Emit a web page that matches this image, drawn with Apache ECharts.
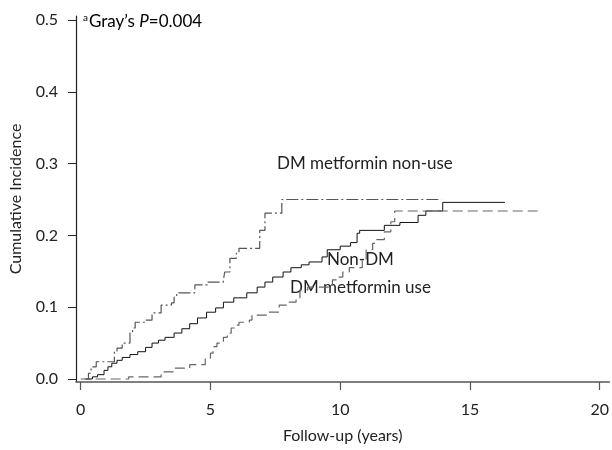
<!DOCTYPE html>
<html><head><meta charset="utf-8">
<script src="https://cdn.jsdelivr.net/npm/echarts@6/dist/echarts.min.js"></script>
<style>html,body{margin:0;padding:0;background:#fff}#c{width:612px;height:450px}</style>
</head><body><div id="c"></div>
<script>
var xTicks = [0, 5, 10, 15, 20];
var yTicks = [0, 0.1, 0.2, 0.3, 0.4, 0.5];
var seriesNames = ['Non-DM', 'DM metformin non-use', 'DM metformin use'];
var nonDM = [[0.2,0],[0.45,0.003],[0.65,0.006],[0.9,0.012],[1.05,0.017],[1.2,0.022],[1.4,0.026],[1.6,0.03],[1.9,0.034],[2.2,0.038],[2.5,0.044],[2.75,0.05],[3.0,0.054],[3.25,0.058],[3.6,0.064],[3.9,0.07],[4.2,0.077],[4.5,0.085],[4.85,0.093],[5.2,0.099],[5.5,0.107],[5.9,0.113],[6.4,0.12],[6.8,0.128],[7.1,0.135],[7.4,0.142],[7.8,0.149],[8.1,0.155],[8.5,0.159],[8.8,0.163],[9.3,0.17],[9.5,0.18],[10.0,0.185],[10.4,0.19],[10.65,0.203],[10.75,0.207],[11.7,0.214],[12.3,0.218],[13.0,0.228],[13.3,0.234],[13.95,0.246],[16.35,0.246]];
var dmNonUse = [[0.15,0],[0.3,0.008],[0.4,0.017],[0.6,0.024],[1.3,0.038],[1.4,0.043],[1.6,0.05],[1.9,0.064],[2.0,0.071],[2.1,0.079],[2.5,0.082],[2.75,0.092],[3.1,0.103],[3.5,0.106],[3.6,0.114],[3.7,0.12],[4.4,0.131],[4.9,0.135],[5.5,0.138],[5.55,0.149],[5.75,0.168],[6.0,0.175],[6.1,0.182],[6.9,0.207],[7.1,0.231],[7.75,0.25],[13.9,0.25]];
var dmUse = [[0,0],[1.85,0.003],[3.1,0.01],[3.6,0.015],[4.2,0.02],[4.8,0.029],[5.0,0.036],[5.1,0.045],[5.25,0.05],[5.5,0.058],[5.65,0.064],[5.8,0.071],[5.95,0.075],[6.1,0.079],[6.5,0.082],[6.6,0.089],[7.2,0.093],[7.65,0.103],[8.0,0.107],[8.3,0.113],[8.45,0.124],[8.75,0.128],[9.7,0.138],[9.95,0.142],[10.1,0.149],[10.35,0.155],[10.85,0.166],[11.0,0.18],[11.25,0.189],[11.4,0.194],[11.7,0.205],[11.95,0.219],[12.1,0.234],[17.7,0.234]];

var FONT = 'Lato';
var TXT = '#222';
var chart = echarts.init(document.getElementById('c'), null, {renderer:'canvas'});
chart.setOption({
  animation: false,
  backgroundColor: '#fff',
  textStyle: {fontFamily: FONT},
  grid: {left: 75, top: 16, width: 537, height: 366, containLabel: false},
  xAxis: {
    type: 'value', min: -0.18, max: 20.37,
    name: 'Follow-up (years)', nameLocation: 'middle', nameGap: 46,
    nameTextStyle: {fontFamily: FONT, fontSize: 16, color: TXT},
    axisLine: {show: true, onZero: false, lineStyle: {color: '#555', width: 1.6}},
    axisTick: {show: true, length: 8, customValues: xTicks, lineStyle: {color: '#555', width: 1.2}},
    axisLabel: {customValues: xTicks, margin: 20, fontFamily: FONT, fontSize: 16, color: TXT},
    splitLine: {show: false}
  },
  yAxis: {
    type: 'value', min: -0.0042, max: 0.5056,
    name: 'Cumulative Incidence', nameLocation: 'middle', nameGap: 52,
    nameTextStyle: {fontFamily: FONT, fontSize: 16, color: TXT},
    axisLine: {show: true, onZero: false, lineStyle: {color: '#222', width: 1.2}},
    axisTick: {show: true, length: 8, customValues: yTicks, lineStyle: {color: '#222'}},
    axisLabel: {customValues: yTicks, margin: 18, fontFamily: FONT, fontSize: 16, color: TXT,
      formatter: function(v){return v.toFixed(1);}},
    splitLine: {show: false}
  },
  series: [
    {name: seriesNames[0], type: 'line', step: 'end', data: nonDM, symbol: 'none',
     lineStyle: {color: '#111', width: 1}},
    {name: seriesNames[1], type: 'line', step: 'end', data: dmNonUse, symbol: 'none',
     lineStyle: {color: '#555', width: 1.2, type: [12, 3, 2, 3]}},
    {name: seriesNames[2], type: 'line', step: 'end', data: dmUse, symbol: 'none',
     lineStyle: {color: '#666', width: 1.2, type: [10, 5]}}
  ],
  graphic: [
    {type: 'text', x: 83, y: 22, style: {
      text: '{sup|a}{n|Gray\u2019s }{i|P}{n|=0.004}', verticalAlign: 'middle',
      rich: {
        sup: {fontFamily: FONT, fontSize: 10, color: TXT, verticalAlign: 'top', padding: [0,1,8,0]},
        n: {fontFamily: FONT, fontSize: 17, color: TXT},
        i: {fontFamily: FONT, fontSize: 17, fontStyle: 'italic', color: TXT}
      }}},
    {type: 'text', x: 277, y: 164, style: {text: seriesNames[1], fontFamily: FONT, fontSize: 17, fill: TXT, verticalAlign: 'middle'}},
    {type: 'text', x: 327, y: 260, style: {text: seriesNames[0], fontFamily: FONT, fontSize: 17, fill: TXT, verticalAlign: 'middle'}},
    {type: 'text', x: 290, y: 288, style: {text: seriesNames[2], fontFamily: FONT, fontSize: 17, fill: TXT, verticalAlign: 'middle'}}
  ]
});
</script></body></html>
